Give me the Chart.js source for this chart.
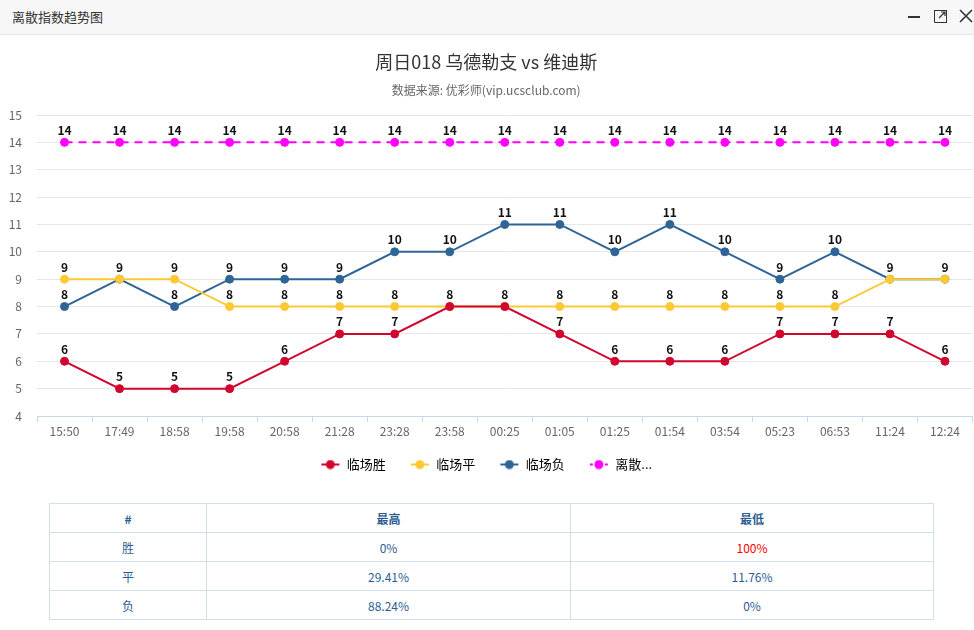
<!DOCTYPE html>
<html lang="zh">
<head>
    <meta charset="UTF-8">
    <script src="https://cdn.jsdelivr.net/npm/chart.js"></script>
    <title>离散指数趋势图</title>
    <style>
        body {
            margin: 0;
            width: 974px;
            height: 630px;
            background: #fff;
            font-family: "Microsoft YaHei", "Noto Sans CJK SC", sans-serif;
            position: relative;
            overflow: hidden;
        }
        .topbar {
            position: absolute;
            left: 0; top: 0;
            width: 974px;
            height: 34px;
            background: #f7f7f7;
            border-bottom: 1px solid #e8e8e8;
        }
        .topbar .name {
            position: absolute;
            left: 12px; top: 7px;
            font-size: 13px;
            color: #333;
        }
        .topbar svg { position: absolute; top: 9px; }
        .chart-box {
            position: absolute;
            left: 0; top: 35px;
            width: 974px;
            height: 446px;
        }
        table {
            position: absolute;
            left: 49px; top: 503px;
            width: 885px;
            border-collapse: collapse;
            font-size: 12px;
            color: #2d5d93;
            text-align: center;
        }
        td, th {
            border: 1px solid #cfe0ec;
            height: 28px;
            padding: 0;
        }
        th { font-weight: bold; }
        .red { color: #ff0000; }
    </style>
</head>
<body>
    <div class="topbar">
        <div class="name">离散指数趋势图</div>
        <svg style="left:907px" width="14" height="14"><line x1="1" y1="8" x2="13" y2="8" stroke="#333" stroke-width="2"/></svg>
        <svg style="left:933px" width="15" height="15"><rect x="1.5" y="1.5" width="12" height="12" fill="none" stroke="#333" stroke-width="1"/><path d="M6 9 L12 3 M8 3 H12 V7" fill="none" stroke="#333" stroke-width="1.2"/><rect x="0" y="9" width="6" height="6" fill="#f7f7f7"/><path d="M1.5 9 V13.5 H6" fill="none" stroke="#333"/></svg>
        <svg style="left:959px" width="14" height="14"><path d="M1 1 L13 13 M13 1 L1 13" stroke="#333" stroke-width="1.6"/></svg>
    </div>

    <div class="chart-box">
        <canvas id="trendChart"></canvas>
    </div>

    <table>
        <tr><th style="width:156px">#</th><th style="width:363px">最高</th><th>最低</th></tr>
        <tr><td>胜</td><td>0%</td><td class="red">100%</td></tr>
        <tr><td>平</td><td>29.41%</td><td>11.76%</td></tr>
        <tr><td>负</td><td>88.24%</td><td>0%</td></tr>
    </table>

    <script>
        // x axis times
        const times = ['15:50', '17:49', '18:58', '19:58', '20:58', '21:28', '23:28', '23:58', '00:25',
            '01:05', '01:25', '01:54', '03:54', '05:23', '06:53', '11:24', '12:24'];

        const winVals  = [6, 5, 5, 5, 6, 7, 7, 8, 8, 7, 6, 6, 6, 7, 7, 7, 6];
        const drawVals = [9, 9, 9, 8, 8, 8, 8, 8, 8, 8, 8, 8, 8, 8, 8, 9, 9];
        const loseVals = [8, 9, 8, 9, 9, 9, 10, 10, 11, 11, 10, 11, 10, 9, 10, 9, 9];
        const spreadVals = [14, 14, 14, 14, 14, 14, 14, 14, 14, 14, 14, 14, 14, 14, 14, 14, 14];

        const seriesNames = ['临场胜', '临场平', '临场负', '离散...'];
        const colors = ['#d0062e', '#fcc934', '#2f6497', '#ff00ff'];

        const fontFam = '"Microsoft YaHei", "Noto Sans CJK SC", sans-serif';

        // small line + dot icon for the legend
        function legendIcon(color, dashed) {
            const c = document.createElement('canvas');
            c.width = 20; c.height = 10;
            const g = c.getContext('2d');
            g.strokeStyle = color;
            g.lineWidth = 2;
            if (dashed) g.setLineDash([3, 2]);
            g.beginPath(); g.moveTo(1, 5); g.lineTo(19, 5); g.stroke();
            g.fillStyle = color;
            g.beginPath(); g.arc(10, 5, 4.5, 0, Math.PI * 2); g.fill();
            return c;
        }

        // value labels over the points, skip duplicates at the same spot
        const valueLabels = {
            id: 'valueLabels',
            afterDatasetsDraw(chart) {
                const ctx = chart.ctx;
                const seen = {};
                ctx.save();
                ctx.font = 'bold 12px ' + fontFam;
                ctx.fillStyle = '#111';
                ctx.textAlign = 'center';
                ctx.textBaseline = 'middle';
                chart.data.datasets.forEach((ds, i) => {
                    chart.getDatasetMeta(i).data.forEach((pt, j) => {
                        const key = Math.round(pt.x) + '_' + Math.round(pt.y);
                        if (seen[key]) return;
                        seen[key] = true;
                        ctx.fillText(ds.data[j], pt.x, pt.y - 12);
                    });
                });
                ctx.restore();
            }
        };

        function makeSet(idx, data, dashed) {
            return {
                label: seriesNames[idx],
                data: data,
                borderColor: colors[idx],
                backgroundColor: colors[idx],
                pointBackgroundColor: colors[idx],
                pointBorderColor: colors[idx],
                borderWidth: 2,
                borderDash: dashed ? [8, 6] : [],
                pointRadius: 4,
                pointBorderWidth: 1,
                tension: 0,
                fill: false,
                clip: false
            };
        }

        const ctx = document.getElementById('trendChart').getContext('2d');
        new Chart(ctx, {
            type: 'line',
            data: {
                labels: times,
                datasets: [
                    makeSet(0, winVals, false),
                    makeSet(1, drawVals, false),
                    makeSet(2, loseVals, false),
                    makeSet(3, spreadVals, true)
                ]
            },
            options: {
                responsive: true,
                maintainAspectRatio: false,
                animation: false,
                layout: { autoPadding: false, padding: { top: 16, left: 0, right: 1.5, bottom: 0 } },
                plugins: {
                    title: {
                        display: true,
                        text: '周日018 乌德勒支 vs 维迪斯',
                        color: '#333',
                        font: { size: 18, weight: 'normal', family: fontFam },
                        padding: { top: 0, bottom: 11 }
                    },
                    subtitle: {
                        display: true,
                        text: '数据来源: 优彩师(vip.ucsclub.com)',
                        color: '#666',
                        font: { size: 12, family: fontFam },
                        padding: { top: 0, bottom: 17 }
                    },
                    legend: {
                        position: 'bottom',
                        labels: {
                            usePointStyle: true,
                            pointStyleWidth: 20,
                            padding: 24,
                            color: '#333',
                            font: { size: 13, family: fontFam },
                            generateLabels(chart) {
                                return chart.data.datasets.map((ds, i) => ({
                                    text: ds.label,
                                    fillStyle: ds.borderColor,
                                    strokeStyle: ds.borderColor,
                                    pointStyle: legendIcon(ds.borderColor, i === 3),
                                    lineWidth: 0,
                                    hidden: false,
                                    datasetIndex: i
                                }));
                            }
                        }
                    },
                    tooltip: { enabled: false }
                },
                scales: {
                    x: {
                        offset: true,
                        afterFit(scale) {
                            scale.height = 18;
                            scale.paddingLeft = 0;
                            scale.paddingRight = 0;
                        },
                        grid: {
                            offset: true,
                            drawOnChartArea: false,
                            drawTicks: true,
                            tickLength: 6,
                            color: '#c8d7ea'
                        },
                        border: { color: '#c8d7ea' },
                        ticks: {
                            autoSkip: false,
                            maxRotation: 0,
                            mirror: true,
                            padding: -23,
                            color: '#666',
                            font: { size: 12, family: fontFam }
                        }
                    },
                    y: {
                        min: 4,
                        max: 15,
                        afterFit(scale) { scale.width = 37; },
                        grid: { color: '#e6e6e6', drawTicks: false },
                        border: { display: false },
                        ticks: {
                            stepSize: 1,
                            padding: 15,
                            color: '#666',
                            font: { size: 12, family: fontFam }
                        }
                    }
                }
            },
            plugins: [valueLabels]
        });
    </script>
</body>
</html>
